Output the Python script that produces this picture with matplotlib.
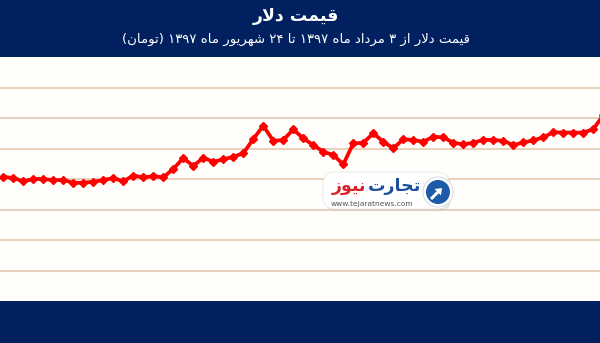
import re
import matplotlib
matplotlib.use('Agg')
import matplotlib.pyplot as plt
from matplotlib.patches import FancyBboxPatch, Circle, FancyArrow

# dollar price, 3 Mordad .. 24 Shahrivar 1397 (toman)
price = [8170, 8080, 7870, 8020, 8020, 7950, 7950, 7770, 7770, 7840,
         7950, 8080, 7870, 8250, 8120, 8210, 8130, 8680, 9400, 8870,
         9420, 9150, 9310, 9480, 9710, 10650, 11520, 10530, 10580, 11280,
         10690, 10250, 9810, 9600, 8980, 10360, 10400, 11020, 10470, 10040,
         10630, 10580, 10470, 10800, 10760, 10400, 10300, 10400, 10600, 10580,
         10530, 10250, 10420, 10560, 10760, 11090, 11070, 11070, 11070, 11290,
         12220]
grid_vals = [2000, 4000, 6000, 8000, 10000, 12000, 14000]

title = 'قیمت دلار'
subtitle = 'قیمت دلار از ۳ مرداد ماه ۱۳۹۷ تا ۲۴ شهریور ماه ۱۳۹۷ (تومان)'
brand1 = 'تجارت'
brand2 = 'نیوز'
site = 'www.tejaratnews.com'

NAVY = '#002060'

# minimal persian shaping (matplotlib has no bidi / joining)
FORMS = {
    'ا': ('\uFE8D', '\uFE8E', None, None),
    'ت': ('\uFE95', '\uFE96', '\uFE97', '\uFE98'),
    'ج': ('\uFE9D', '\uFE9E', '\uFE9F', '\uFEA0'),
    'د': ('\uFEA9', '\uFEAA', None, None),
    'ر': ('\uFEAD', '\uFEAE', None, None),
    'ز': ('\uFEAF', '\uFEB0', None, None),
    'ش': ('\uFEB5', '\uFEB6', '\uFEB7', '\uFEB8'),
    'ق': ('\uFED5', '\uFED6', '\uFED7', '\uFED8'),
    'ل': ('\uFEDD', '\uFEDE', '\uFEDF', '\uFEE0'),
    'م': ('\uFEE1', '\uFEE2', '\uFEE3', '\uFEE4'),
    'ن': ('\uFEE5', '\uFEE6', '\uFEE7', '\uFEE8'),
    'ه': ('\uFEE9', '\uFEEA', '\uFEEB', '\uFEEC'),
    'و': ('\uFEED', '\uFEEE', None, None),
    'ی': ('\uFBFC', '\uFBFD', '\uFBFE', '\uFBFF'),
}


def fa(s):
    out = []
    i = 0
    n = len(s)
    while i < n:
        c = s[i]
        if c not in FORMS:
            out.append(c)
            i += 1
            continue
        prev = s[i - 1] if i > 0 else ''
        nxt = s[i + 1] if i + 1 < n else ''
        jp = prev in FORMS and FORMS[prev][2] is not None
        if c == 'ل' and nxt == 'ا':
            out.append('\uFEFC' if jp else '\uFEFB')
            i += 2
            continue
        jn = nxt in FORMS and FORMS[c][2] is not None
        iso, fin, ini, med = FORMS[c]
        if jp and jn:
            out.append(med)
        elif jp:
            out.append(fin)
        elif jn:
            out.append(ini)
        else:
            out.append(iso)
        i += 1
    vis = ''.join(out)[::-1]
    vis = re.sub('[۰-۹]+', lambda m: m.group(0)[::-1], vis)
    return vis.translate(str.maketrans('()', ')('))


plt.rcParams['font.family'] = ['DejaVu Sans']

fig = plt.figure(figsize=(6, 3.43), dpi=100, facecolor=NAVY)
ax = fig.add_axes([0, 42 / 343, 1, 244 / 343])
ax.set_facecolor('#fffefa')
x = list(range(len(price)))
ax.plot(x, price, color='#ff0000', lw=2.7, marker='D', ms=3.8, zorder=3)
ax.set_xlim(-0.33, 59.67)
ax.set_ylim(0, 16040)
ax.set_yticks(grid_vals)
ax.grid(axis='y', color='#e3c5a8', lw=1.1)
ax.tick_params(left=False, bottom=False, labelleft=False, labelbottom=False)
for s in ax.spines.values():
    s.set_visible(False)

# overlay in pixel units for titles and watermark
ov = fig.add_axes([0, 0, 1, 1], zorder=5)
ov.set_xlim(0, 600)
ov.set_ylim(343, 0)
ov.axis('off')

ov.text(296, 16, fa(title), color='white', fontsize=12.5, fontweight='bold',
        ha='center', va='center')
ov.text(296, 39, fa(subtitle), color='white', fontsize=9.5,
        ha='center', va='center')

ov.add_patch(FancyBboxPatch((325, 174), 126, 37, boxstyle='round,pad=0,rounding_size=12',
                            fc='#b8b8b8', ec='none', alpha=0.35))
ov.add_patch(FancyBboxPatch((323, 172), 126, 37, boxstyle='round,pad=0,rounding_size=12',
                            fc='white', ec='#e6e6e6', lw=0.6))
ov.text(366, 186, fa(brand2), color='#d8232a', fontsize=12.5, fontweight='bold',
        ha='right', va='center')
ov.text(368, 186, fa(brand1), color='#1d4f9c', fontsize=12.5, fontweight='bold',
        ha='left', va='center')
ov.text(372, 204, site, color='#555555', fontsize=5.4, ha='center', va='center')
ov.add_patch(Circle((438, 192), 15, fc='white', ec='#d8dde6', lw=0.8))
ov.add_patch(Circle((438, 192), 12, fc='#1d5aa8', ec='none'))
ov.add_patch(FancyArrow(431, 199, 11, -11, width=3, head_width=9, head_length=6,
                        fc='white', ec='none', length_includes_head=True))

fig.savefig('out.png', dpi=100, facecolor=NAVY)
